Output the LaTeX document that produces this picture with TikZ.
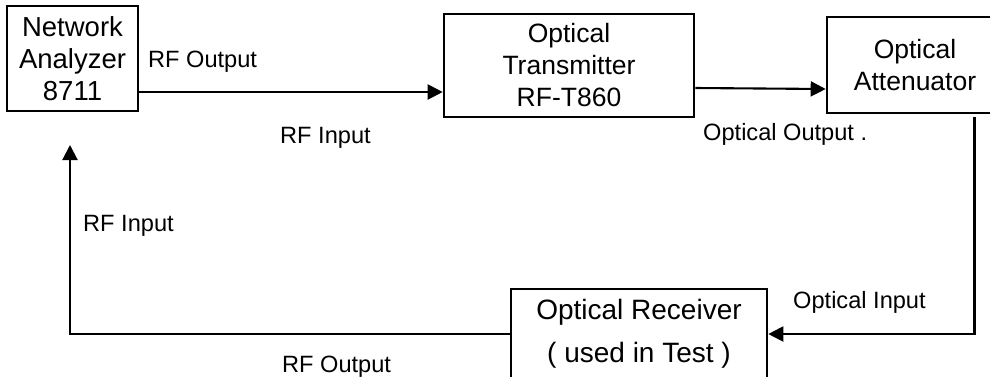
\documentclass[tikz,border=0pt]{standalone}
\usepackage{fontspec}
\setmainfont{Liberation Sans}
\usetikzlibrary{positioning}
\usetikzlibrary{arrows.meta}

\begin{document}
\begin{tikzpicture}[x=1pt,y=-1pt,
    block/.style={rectangle,draw,line width=2.6pt,align=center,inner sep=0pt},
    boxfont/.style={font=\fontsize{26.5}{32}\selectfont},
    lbl/.style={anchor=base west,inner sep=0pt,font=\fontsize{23.6}{28}\selectfont},
    link/.style={line width=2.1pt,-{Triangle[length=15pt,width=15pt]}}]
    \useasboundingbox (0,0) rectangle (990,376);
    %Blocks
    \node[block,font=\fontsize{27.5}{32}\selectfont,minimum width=131pt,minimum height=105pt] (na) at (72.5,58.5) {Network\\Analyzer\\8711};
    \node[block,boxfont,minimum width=250pt,minimum height=103pt] (tx) at (569,65.5) {Optical\\Transmitter\\RF-T860};
    \node[block,boxfont,minimum width=176pt,minimum height=96pt] (att) at (915,65) {Optical\\Attenuator};
    \node[block,minimum width=256pt,minimum height=100pt] (rx) at (639,339) {};
    \node[align=center,inner sep=0pt,font=\fontsize{28}{43}\selectfont,below=11pt of rx.north] (rxtext) {Optical Receiver\\( used in Test )};
    \coordinate (nain) at (70,145);
    %Links
    \draw[link] ([yshift=-33.5pt]na.east) -- ([yshift=-26.5pt]tx.west);
    \draw[link] ([yshift=-22.5pt]tx.east) -- ([yshift=-24pt]att.west);
    \draw[link] ([xshift=59.5pt,yshift=-3pt]att.south) |- ([yshift=5pt]rx.east);
    \draw[link] ([yshift=5pt]rx.west) -| (nain);
    %Port labels
    \node[lbl] (rfout1) at (148,67) {RF Output};
    \node[lbl] (rfin1) at (280,143) {RF Input};
    \node[lbl] (optout) at (703,140) {Optical Output .};
    \node[lbl] (optin) at (793,308) {Optical Input};
    \node[lbl] (rfin2) at (83,231) {RF Input};
    \node[lbl] (rfout2) at (282,372) {RF Output};
\end{tikzpicture}
\end{document}
